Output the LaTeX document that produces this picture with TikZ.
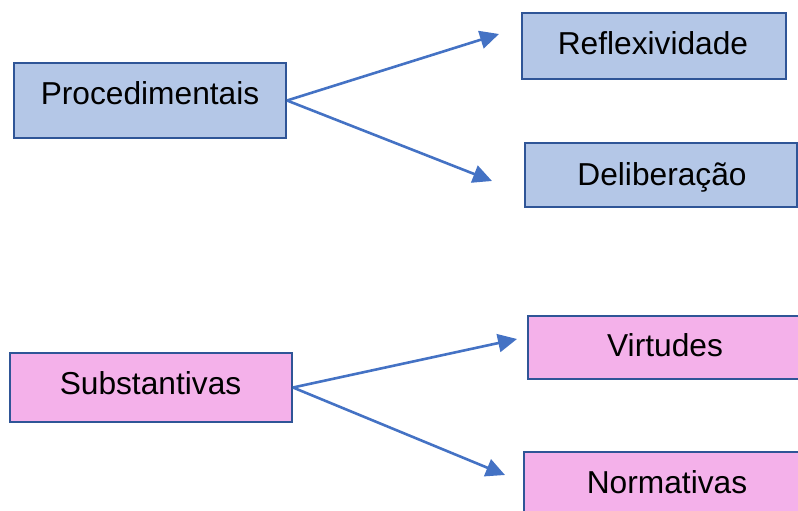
\documentclass[tikz,border=0pt]{standalone}
\usepackage{fontspec}
\setmainfont{Liberation Sans}
\usetikzlibrary{arrows.meta}
\definecolor{bluefill}{HTML}{B4C7E7}
\definecolor{pinkfill}{HTML}{F4B1EA}
\definecolor{boxborder}{HTML}{2F5597}
\definecolor{arrowblue}{HTML}{4472C4}
\tikzset{
  box/.style={draw=boxborder, line width=2pt, inner sep=0pt},
  bluebox/.style={box, fill=bluefill},
  pinkbox/.style={box, fill=pinkfill},
  boxtext/.style={anchor=base, inner sep=0pt, font=\fontsize{31.7}{36}\selectfont},
  conn/.style={draw=arrowblue, line width=2.6pt, -{Triangle[length=19pt,width=18pt]}}
}
\begin{document}
\begin{tikzpicture}[x=1pt,y=-1pt]
\useasboundingbox (0,0) rectangle (798,511);
% boxes
\node[bluebox, minimum width=272pt, minimum height=75pt] (proc) at (150,100.5) {};
\node[bluebox, minimum width=264pt, minimum height=66pt] (refl) at (654,46) {};
\node[bluebox, minimum width=272pt, minimum height=64pt] (delib) at (661,175) {};
\node[pinkbox, minimum width=282pt, minimum height=69pt] (subst) at (151,387.5) {};
\node[pinkbox, minimum width=274pt, minimum height=63pt] (virt) at (665,347.5) {};
\node[pinkbox, minimum width=286pt, minimum height=63pt] (norm) at (667,483.5) {};
% texts
\node[boxtext] (procT) at (150,104.3) {Procedimentais};
\node[boxtext] (reflT) at (653,54.3) {Reflexividade};
\node[boxtext] (delibT) at (662,185.7) {Deliberação};
\node[boxtext] (substT) at (150.5,394) {Substantivas};
\node[boxtext] (virtT) at (665,356.7) {Virtudes};
\node[boxtext] (normT) at (667,493.3) {Normativas};
% arrow ends
\coordinate (t1) at (499,34);
\coordinate (t2) at (492,181);
\coordinate (t3) at (517,339);
\coordinate (t4) at (505,475);
\draw[conn] (proc.east) -- (t1);
\draw[conn] (proc.east) -- (t2);
\draw[conn] (subst.east) -- (t3);
\draw[conn] (subst.east) -- (t4);
\end{tikzpicture}
\end{document}
